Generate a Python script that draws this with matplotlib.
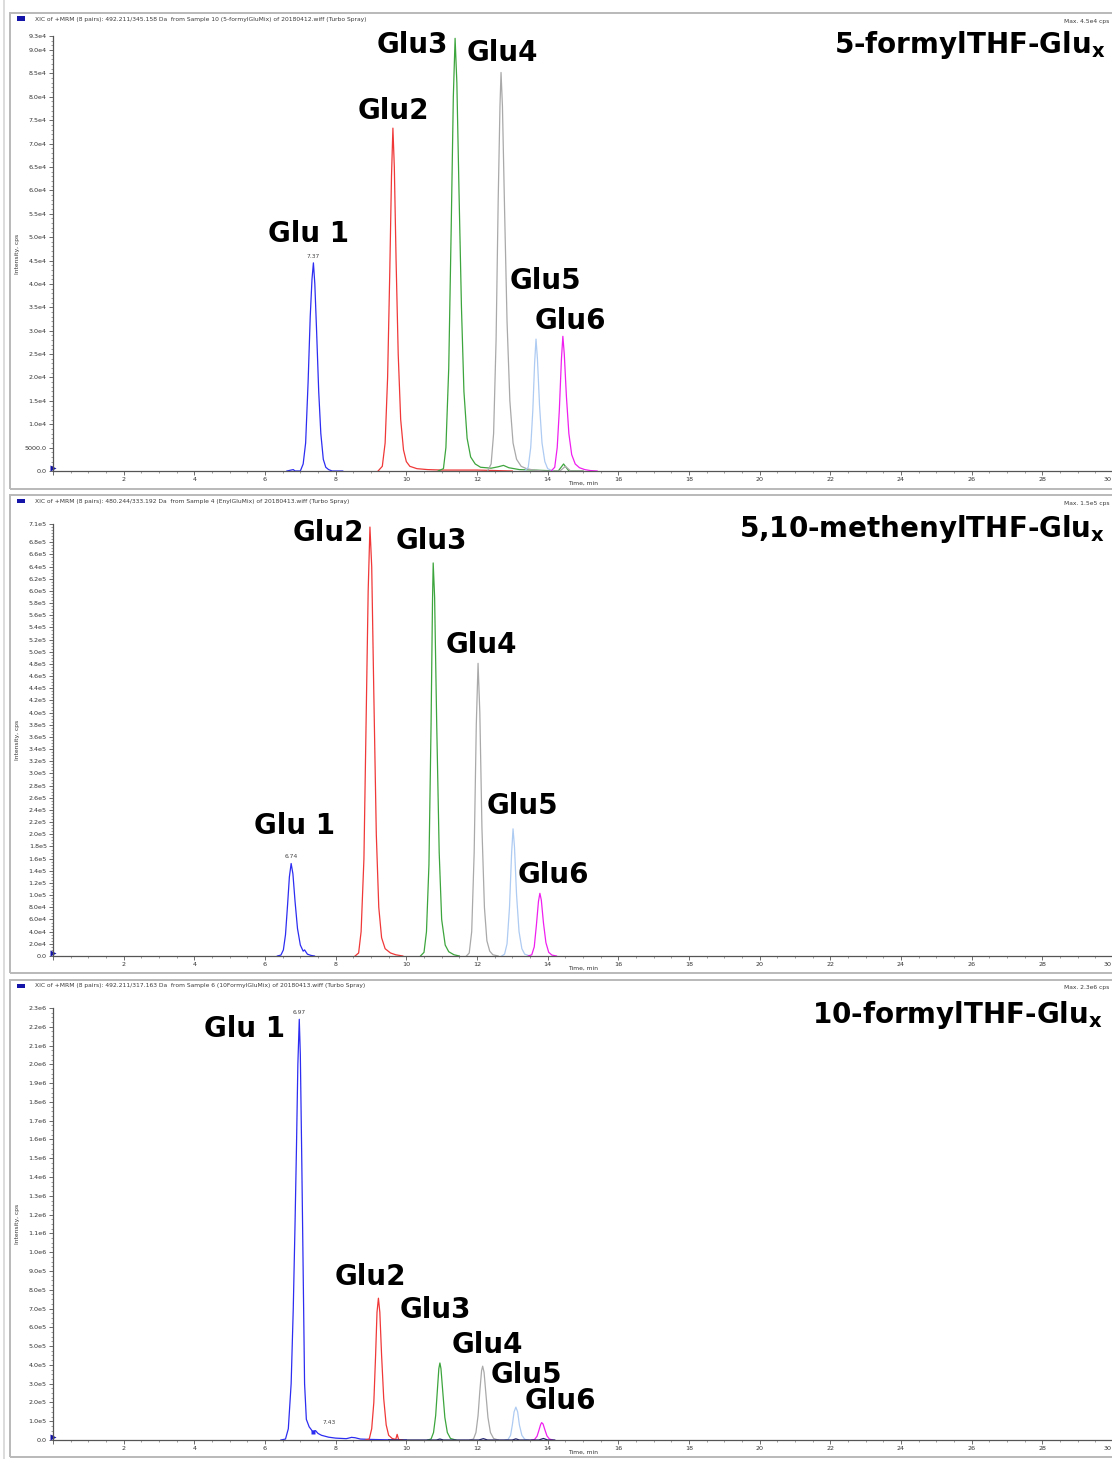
import matplotlib
matplotlib.use("Agg")
import matplotlib.pyplot as plt
from matplotlib.patches import Rectangle
from matplotlib.lines import Line2D
from matplotlib.ticker import FixedLocator, MultipleLocator, FuncFormatter
import numpy as np

# ---------------------------------------------------------------------------
# Chromatogram traces (time in min, intensity in cps)
# ---------------------------------------------------------------------------
# 5-formylTHF-Glu(x)
f5_glu1_t = [6.62, 6.8, 6.85, 7.0, 7.08, 7.15, 7.22, 7.28, 7.33, 7.37, 7.41, 7.46, 7.52, 7.58, 7.65, 7.72, 7.8, 7.9, 8.2]
f5_glu1_i = [0, 300, 0, 0, 1500, 6000, 19000, 33000, 41000, 44500, 40000, 30000, 17000, 8000, 2500, 800, 300, 0, 0]
f5_glu2_t = [9.2, 9.32, 9.4, 9.47, 9.53, 9.58, 9.62, 9.66, 9.71, 9.77, 9.84, 9.92, 10.0, 10.1, 10.3, 10.6, 11.0, 12.0, 13.0]
f5_glu2_i = [0, 1000, 6000, 20000, 42000, 63000, 73300, 65000, 45000, 25000, 11000, 4500, 2000, 1000, 500, 300, 200, 200, 0]
f5_glu3_t = [10.9, 11.05, 11.12, 11.2, 11.27, 11.33, 11.38, 11.43, 11.49, 11.56, 11.63, 11.72, 11.82, 11.95, 12.1, 12.4,
             12.6, 12.75, 12.9, 13.2, 13.6, 14.3, 14.45, 14.6, 15.0]
f5_glu3_i = [0, 500, 5000, 22000, 52000, 80000, 92500, 83000, 60000, 35000, 17000, 7000, 3000, 1500, 800, 600,
             900, 1200, 700, 300, 200, 0, 1500, 0, 0]
f5_glu4_t = [12.3, 12.4, 12.47, 12.54, 12.6, 12.65, 12.68, 12.72, 12.78, 12.85, 12.93, 13.02, 13.12, 13.25, 13.4, 13.6,
             13.9, 14.35, 14.5, 14.65, 15.0]
f5_glu4_i = [0, 1500, 8000, 28000, 58000, 78000, 85200, 78000, 56000, 32000, 15000, 6000, 2500, 1000, 500, 200,
             0, 0, 1000, 0, 0]
f5_glu5_t = [13.35, 13.45, 13.52, 13.58, 13.63, 13.67, 13.71, 13.77, 13.84, 13.92, 14.0, 14.15]
f5_glu5_i = [0, 800, 5000, 13000, 23000, 28200, 24000, 14000, 6000, 2000, 500, 0]
f5_glu6_t = [14.1, 14.2, 14.27, 14.33, 14.39, 14.43, 14.47, 14.53, 14.6, 14.68, 14.78, 14.9, 15.05, 15.2, 15.4]
f5_glu6_i = [0, 800, 5000, 13000, 24000, 28800, 25000, 16000, 8000, 3500, 1500, 700, 300, 100, 0]

# 5,10-methenylTHF-Glu(x)
me_glu1_t = [6.35, 6.45, 6.52, 6.58, 6.64, 6.69, 6.74, 6.79, 6.85, 6.92, 7.0, 7.08, 7.12, 7.2, 7.3, 7.4]
me_glu1_i = [0, 1500, 10000, 35000, 85000, 130000, 152000, 135000, 90000, 45000, 18000, 8000, 10000, 3000, 1000, 0]
me_glu2_t = [8.55, 8.65, 8.72, 8.8, 8.86, 8.92, 8.97, 9.02, 9.08, 9.15, 9.22, 9.3, 9.4, 9.55, 9.7, 9.9]
me_glu2_i = [0, 5000, 40000, 160000, 380000, 600000, 705000, 640000, 430000, 200000, 80000, 30000, 12000, 5000, 2000, 0]
me_glu3_t = [10.4, 10.5, 10.57, 10.64, 10.7, 10.74, 10.76, 10.8, 10.86, 10.93, 11.0, 11.1, 11.2, 11.35, 11.5]
me_glu3_i = [0, 6000, 40000, 150000, 380000, 580000, 646000, 590000, 380000, 170000, 60000, 18000, 7000, 2000, 0]
me_glu4_t = [11.7, 11.78, 11.85, 11.92, 11.98, 12.03, 12.08, 12.14, 12.21, 12.28, 12.36, 12.45, 12.6]
me_glu4_i = [0, 5000, 40000, 170000, 380000, 481000, 400000, 210000, 80000, 25000, 8000, 2000, 0]
me_glu5_t = [12.7, 12.78, 12.85, 12.92, 12.98, 13.02, 13.06, 13.12, 13.19, 13.27, 13.35, 13.5]
me_glu5_i = [0, 3000, 20000, 80000, 170000, 209000, 180000, 100000, 40000, 12000, 3000, 0]
me_glu6_t = [13.45, 13.55, 13.62, 13.68, 13.74, 13.78, 13.82, 13.88, 13.95, 14.03, 14.12, 14.25]
me_glu6_i = [0, 2000, 15000, 50000, 90000, 103000, 92000, 55000, 22000, 6000, 1500, 0]

# 10-formylTHF-Glu(x)
f10_glu1_t = [6.45, 6.58, 6.66, 6.74, 6.8, 6.85, 6.89, 6.93, 6.97, 7.0, 7.04, 7.08, 7.12, 7.17, 7.25, 7.35, 7.43,
              7.5, 7.6, 7.8, 8.0, 8.3, 8.45, 8.55, 8.7, 9.0, 9.5, 10.0]
f10_glu1_i = [0, 5000, 60000, 300000, 700000, 1150000, 1550000, 2000000, 2240000, 2050000, 1500000, 900000, 300000,
              110000, 70000, 45000, 50000, 35000, 25000, 15000, 10000, 7000, 14000, 12000, 5000, 3000, 1000, 0]
f10_glu2_t = [8.85, 8.95, 9.02, 9.08, 9.13, 9.17, 9.21, 9.25, 9.3, 9.36, 9.43, 9.5, 9.6, 9.7, 9.74, 9.78, 9.9]
f10_glu2_i = [0, 5000, 60000, 200000, 450000, 680000, 755000, 680000, 450000, 220000, 80000, 25000, 8000, 3000,
              30000, 3000, 0]
f10_glu3_t = [10.6, 10.7, 10.77, 10.83, 10.88, 10.92, 10.95, 10.98, 11.03, 11.09, 11.16, 11.25, 11.4]
f10_glu3_i = [0, 5000, 40000, 130000, 270000, 380000, 410000, 380000, 260000, 120000, 40000, 8000, 0]
f10_glu4_t = [11.8, 11.9, 11.97, 12.03, 12.08, 12.13, 12.16, 12.2, 12.25, 12.31, 12.38, 12.47, 12.6]
f10_glu4_i = [0, 5000, 40000, 130000, 260000, 370000, 393000, 360000, 250000, 120000, 40000, 8000, 0]
f10_glu5_t = [12.8, 12.88, 12.95, 13.0, 13.05, 13.1, 13.15, 13.2, 13.27, 13.35, 13.45]
f10_glu5_i = [0, 3000, 25000, 80000, 150000, 175000, 150000, 80000, 25000, 4000, 0]
f10_glu6_t = [13.55, 13.63, 13.7, 13.75, 13.8, 13.83, 13.87, 13.92, 13.98, 14.05, 14.15]
f10_glu6_i = [0, 3000, 20000, 50000, 82000, 92500, 85000, 55000, 22000, 5000, 0]
f10_minor_t = [9.5, 10.85, 10.95, 11.05, 12.05, 12.18, 12.3, 13.0, 13.1, 13.2, 13.75, 13.88, 14.0, 14.2]
f10_minor_i = [0, 0, 5000, 0, 0, 7000, 0, 0, 6000, 0, 0, 8000, 0, 0]

glu_names = ["Glu 1", "Glu2", "Glu3", "Glu4", "Glu5", "Glu6"]

# time axis range
t_min, t_max = 0, 30

# y-axis ranges and tick steps per panel
f5_ymax, f5_ystep = 93000, 5000
me_ymax, me_ystep = 710000, 20000
f10_ymax, f10_ystep = 2300000, 100000

f5_header = "XIC of +MRM (8 pairs): 492.211/345.158 Da  from Sample 10 (5-formylGluMix) of 20180412.wiff (Turbo Spray)"
me_header = "XIC of +MRM (8 pairs): 480.244/333.192 Da  from Sample 4 (EnylGluMix) of 20180413.wiff (Turbo Spray)"
f10_header = "XIC of +MRM (8 pairs): 492.211/317.163 Da  from Sample 6 (10FormylGluMix) of 20180413.wiff (Turbo Spray)"
f5_max, me_max, f10_max = "Max. 4.5e4 cps", "Max. 1.5e5 cps", "Max. 2.3e6 cps"
f5_title = r"5-formylTHF-Glu$_\mathbf{x}$"
me_title = r"5,10-methenylTHF-Glu$_\mathbf{x}$"
f10_title = r"10-formylTHF-Glu$_\mathbf{x}$"

# ---------------------------------------------------------------------------
# Styling / layout
# ---------------------------------------------------------------------------
W, H = 1112, 1459
trace_colors = ["#2d2df2", "#f03838", "#3da53d", "#a9a9a9", "#aecbf2", "#ef1fef"]
minor_color = "#1c1c6a"

def fx(px):
    return px / W

def fy(py):
    return 1 - py / H

panels = [
    dict(times=[f5_glu1_t, f5_glu2_t, f5_glu3_t, f5_glu4_t, f5_glu5_t, f5_glu6_t],
         ints=[f5_glu1_i, f5_glu2_i, f5_glu3_i, f5_glu4_i, f5_glu5_i, f5_glu6_i],
         minor=None, ymax=f5_ymax, ystep=f5_ystep, yminor=1000,
         header=f5_header, maxtxt=f5_max, title=f5_title,
         frame=(13, 489), ax_top=36, ax_bot=471,
         label_px=[(308, 234), (393, 111), (412, 45), (502, 53), (545, 281), (570, 321)],
         title_px=(1105, 45), shoulder=None),
    dict(times=[me_glu1_t, me_glu2_t, me_glu3_t, me_glu4_t, me_glu5_t, me_glu6_t],
         ints=[me_glu1_i, me_glu2_i, me_glu3_i, me_glu4_i, me_glu5_i, me_glu6_i],
         minor=None, ymax=me_ymax, ystep=me_ystep, yminor=5000,
         header=me_header, maxtxt=me_max, title=me_title,
         frame=(495, 973), ax_top=524, ax_bot=956,
         label_px=[(294, 826), (328, 533), (431, 541), (481, 645), (522, 806), (553, 875)],
         title_px=(1105, 529), shoulder=None),
    dict(times=[f10_glu1_t, f10_glu2_t, f10_glu3_t, f10_glu4_t, f10_glu5_t, f10_glu6_t],
         ints=[f10_glu1_i, f10_glu2_i, f10_glu3_i, f10_glu4_i, f10_glu5_i, f10_glu6_i],
         minor=(f10_minor_t, f10_minor_i), ymax=f10_ymax, ystep=f10_ystep, yminor=25000,
         header=f10_header, maxtxt=f10_max, title=f10_title,
         frame=(980, 1457), ax_top=1008, ax_bot=1440,
         label_px=[(245, 1029), (370, 1277), (435, 1310), (487, 1345), (526, 1375), (560, 1401)],
         title_px=(1103, 1015), shoulder=(7.3, 7.6)),
]

AX_LEFT, AX_RIGHT = 53, 1113


def ytick_fmt(v, _pos=None):
    if v == 0:
        return "0.0"
    if v < 1e4:
        return f"{v:.1f}"
    exp = int(np.floor(np.log10(v)))
    mant = v / 10 ** exp
    return f"{mant:.1f}e{exp}"


def xtick_fmt(v, _pos=None):
    # the end label is drawn separately so that it stays inside the canvas
    if v == t_min or v == t_max:
        return ""
    return f"{v:.0f}"


plt.rcParams["font.family"] = ["DejaVu Sans"]
plt.rcParams["mathtext.fontset"] = "dejavusans"

fig = plt.figure(figsize=(W / 100, H / 100), dpi=100)
fig.patch.set_facecolor("white")

# window borders
fig.add_artist(Line2D([fx(4), fx(4)], [0, 1], transform=fig.transFigure, color="#d6d6d6", lw=1.2))

for p in panels:
    ftop, fbot = p["frame"]
    fig.add_artist(Rectangle((fx(10), fy(fbot)), fx(W + 20) - fx(10), (fbot - ftop) / H,
                             transform=fig.transFigure, fill=False, ec="#b9b9b9", lw=1.4))
    # header strip
    fig.add_artist(Rectangle((fx(17), fy(ftop + 8)), fx(8), 4.5 / H, transform=fig.transFigure,
                             fc="#1414a8", ec="none"))
    fig.text(fx(35), fy(ftop + 6), p["header"], fontsize=4.3, color="#3a3a3a", va="center", ha="left")
    fig.text(fx(1109), fy(ftop + 8), p["maxtxt"], fontsize=4.3, color="#3a3a3a", va="center", ha="right")

    ax_h_px = p["ax_bot"] - p["ax_top"]
    ax = fig.add_axes([fx(AX_LEFT), fy(p["ax_bot"]), fx(AX_RIGHT) - fx(AX_LEFT), ax_h_px / H])
    ax.set_xlim(t_min, t_max)
    ax.set_ylim(0, p["ymax"])

    for t, i, c in zip(p["times"], p["ints"], trace_colors):
        ax.plot(t, i, color=c, lw=0.9, solid_joinstyle="round")
    if p["minor"] is not None:
        ax.plot(p["minor"][0], p["minor"][1], color=minor_color, lw=0.9)

    # retention-time label on the first peak
    t0, i0 = np.asarray(p["times"][0]), np.asarray(p["ints"][0])
    k = int(np.argmax(i0))
    ax.annotate(f"{t0[k]:.2f}", (t0[k], i0[k]), xytext=(0, 3), textcoords="offset points",
                ha="center", va="bottom", fontsize=4.3, color="#444444")
    if p["shoulder"] is not None:
        lo, hi = p["shoulder"]
        sel = np.where((t0 > lo) & (t0 < hi))[0]
        ks = sel[np.argmax(i0[sel])]
        ax.plot(t0[ks] - 0.08, i0[ks] - 5000, marker="s", ms=2.2, color=trace_colors[0], mec="none")
        ax.annotate(f"{t0[ks]:.2f}", (t0[ks], i0[ks]), xytext=(5, 4), textcoords="offset points",
                    ha="left", va="bottom", fontsize=4.3, color="#444444")

    # peak names
    trans = ax.transData.inverted()
    for name, (lx, ly) in zip(glu_names, p["label_px"]):
        dx, dy = trans.transform(fig.transFigure.transform((fx(lx), fy(ly))))
        ax.text(dx, dy, name, fontsize=20, fontweight="bold", ha="center", va="center", color="black")
    tx, ty = trans.transform(fig.transFigure.transform((fx(p["title_px"][0]), fy(p["title_px"][1]))))
    ax.text(tx, ty, p["title"], fontsize=20, fontweight="bold", ha="right", va="center", color="black")

    # origin marker on the y axis
    ax.plot([0], [p["ymax"] * 0.008], marker=">", ms=4, color="#1414a8", clip_on=False, mec="none")

    # axes styling
    for s in ("top", "right"):
        ax.spines[s].set_visible(False)
    for s in ("left", "bottom"):
        ax.spines[s].set_color("#555555")
        ax.spines[s].set_linewidth(0.9)
    yt = list(np.arange(0, p["ymax"] - p["ystep"] * 0.5, p["ystep"])) + [p["ymax"]]
    ax.yaxis.set_major_locator(FixedLocator(yt))
    ax.yaxis.set_major_formatter(FuncFormatter(ytick_fmt))
    ax.yaxis.set_minor_locator(MultipleLocator(p["yminor"]))
    ax.xaxis.set_major_locator(MultipleLocator(2))
    ax.xaxis.set_minor_locator(MultipleLocator(0.5))
    ax.xaxis.set_major_formatter(FuncFormatter(xtick_fmt))
    ax.tick_params(axis="both", which="major", labelsize=4.6, colors="#555555", labelcolor="#333333",
                   length=3, width=0.6, pad=1.5)
    ax.tick_params(axis="both", which="minor", length=1.5, width=0.5, colors="#777777")
    # end-of-range label, kept right-aligned at the canvas edge
    ax.annotate(f"{t_max:.0f}", (t_max, 0), xytext=(-1, -4.6), textcoords="offset points",
                ha="right", va="top", fontsize=4.6, color="#333333", annotation_clip=False)
    ax.set_xlabel("Time, min", fontsize=4.3, color="#333333")
    ax.xaxis.set_label_coords(0.5, -10.0 / ax_h_px)
    fig.text(fx(17), fy((p["ax_top"] + p["ax_bot"]) / 2), "Intensity, cps", rotation=90,
             fontsize=4.3, color="#333333", ha="center", va="center")

fig.savefig("out.png", dpi=100, facecolor="white")
